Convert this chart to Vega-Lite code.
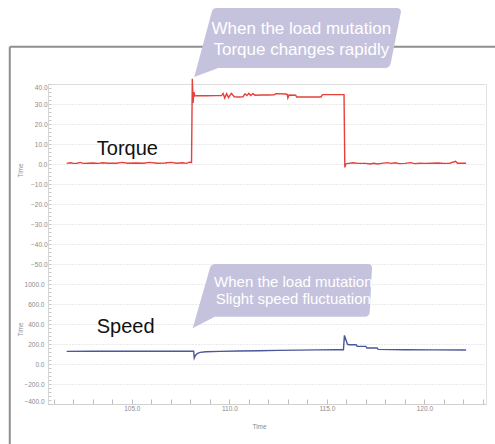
{
  "$schema": "https://vega.github.io/schema/vega-lite/v6.json",
  "width": 438,
  "height": 320,
  "autosize": {"type": "none"},
  "padding": {"left": 48, "top": 84, "right": 9, "bottom": 40},
  "background": "white",
  "config": {"font": "Liberation Sans", "view": {"stroke": "#e2e2e2"}},
  "datasets": {
    "one": [{"k": 1}],
    "torque": [
      {"t":101.66,"v":0.3},{"t":101.85,"v":0.6},{"t":102.0,"v":0.3},{"t":102.2,"v":0.4},{"t":102.35,"v":0.8},{"t":102.5,"v":0.3},{"t":102.75,"v":0.4},{"t":103.0,"v":0.5},{"t":103.3,"v":0.3},{"t":103.5,"v":0.6},{"t":103.8,"v":0.4},{"t":104.2,"v":0.4},{"t":104.5,"v":0.8},{"t":104.8,"v":0.4},{"t":105.2,"v":0.5},{"t":105.6,"v":0.4},{"t":105.9,"v":0.8},{"t":106.3,"v":0.4},{"t":106.7,"v":0.5},{"t":107.0,"v":0.8},{"t":107.3,"v":0.4},{"t":107.6,"v":0.6},{"t":107.8,"v":0.3},{"t":107.95,"v":0.9},{"t":108.06,"v":0.8},
      {"t":108.1,"v":42.6},{"t":108.14,"v":30.5},{"t":108.18,"v":36.0},{"t":108.23,"v":34.0},{"t":108.35,"v":34.2},{"t":108.8,"v":34.1},{"t":109.3,"v":34.2},{"t":109.6,"v":34.2},{"t":109.68,"v":35.3},{"t":109.76,"v":33.0},{"t":109.86,"v":35.2},{"t":109.96,"v":33.2},{"t":110.1,"v":35.3},{"t":110.25,"v":33.6},{"t":110.45,"v":33.5},{"t":110.7,"v":33.6},{"t":110.8,"v":35.1},{"t":110.9,"v":34.2},{"t":111.0,"v":35.3},{"t":111.1,"v":34.3},{"t":111.2,"v":35.2},{"t":111.32,"v":34.4},{"t":111.6,"v":34.5},{"t":112.0,"v":34.5},{"t":112.3,"v":34.6},{"t":112.38,"v":35.2},{"t":112.9,"v":35.0},{"t":112.97,"v":34.7},{"t":113.0,"v":33.0},{"t":113.06,"v":34.5},{"t":113.4,"v":34.4},{"t":113.45,"v":33.5},{"t":114.7,"v":33.5},{"t":114.78,"v":34.7},{"t":115.88,"v":34.7},
      {"t":115.92,"v":-1.7},{"t":115.98,"v":0.1},{"t":116.1,"v":0.3},{"t":116.35,"v":0.6},{"t":116.6,"v":0.3},{"t":117.0,"v":0.3},{"t":117.2,"v":0.0},{"t":117.4,"v":0.4},{"t":117.6,"v":0.0},{"t":117.8,"v":0.3},{"t":118.1,"v":0.7},{"t":118.3,"v":0.3},{"t":118.5,"v":0.6},{"t":118.7,"v":0.2},{"t":119.0,"v":0.3},{"t":119.3,"v":0.7},{"t":119.5,"v":0.2},{"t":119.8,"v":0.4},{"t":120.0,"v":0.3},{"t":120.4,"v":0.4},{"t":120.7,"v":0.5},{"t":121.0,"v":0.3},{"t":121.3,"v":0.4},{"t":121.6,"v":1.3},{"t":121.7,"v":0.4},{"t":122.14,"v":0.4}
    ],
    "speed": [
      {"t":101.66,"v":126},{"t":103,"v":127},{"t":105,"v":127},{"t":107,"v":127},{"t":108.17,"v":127},{"t":108.2,"v":60},{"t":108.26,"v":85},{"t":108.35,"v":105},{"t":108.5,"v":116},{"t":108.8,"v":122},{"t":109.5,"v":126},{"t":110.5,"v":130},{"t":111.5,"v":133},{"t":112.5,"v":136},{"t":113.5,"v":139},{"t":114.5,"v":141},{"t":115.5,"v":143},{"t":115.85,"v":143},{"t":115.9,"v":286},{"t":116.05,"v":200},{"t":116.12,"v":193},{"t":116.5,"v":193},{"t":116.55,"v":176},{"t":117.0,"v":176},{"t":117.05,"v":160},{"t":117.58,"v":160},{"t":117.63,"v":146},{"t":119,"v":143},{"t":120.5,"v":141},{"t":122.14,"v":140}
    ]
  },
  "layer": [
    {
      "resolve": {"axis": {"x": "independent", "y": "independent"}},
      "layer": [
        {
          "data": {"name": "one"},
          "mark": {"type": "rule", "color": "#8f8f8f", "strokeWidth": 2},
          "encoding": {
            "x": {"datum": 98.74, "type": "quantitative", "scale": {"domain": [100.7, 123.16], "nice": false, "zero": false}, "axis": null},
            "y": {"datum": 58.65, "type": "quantitative", "scale": {"domain": [-120, 40], "nice": false, "zero": false}, "axis": null},
            "y2": {"datum": -160}
          }
        },
        {
          "data": {"name": "one"},
          "mark": {"type": "rule", "color": "#8f8f8f", "strokeWidth": 2},
          "encoding": {
            "x": {"datum": 98.74, "type": "quantitative", "scale": {"domain": [100.7, 123.16], "nice": false, "zero": false}, "axis": null},
            "x2": {"datum": 125},
            "y": {"datum": 58.65, "type": "quantitative", "scale": {"domain": [-120, 40], "nice": false, "zero": false}, "axis": null}
          }
        },
        {
          "data": {"name": "torque"},
          "mark": {"type": "line", "color": "#e5403b", "strokeWidth": 1.4},
          "encoding": {
            "x": {
              "field": "t", "type": "quantitative",
              "scale": {"domain": [100.7, 123.16], "nice": false, "zero": false},
              "axis": {
                "orient": "bottom",
                "values": [101,102,103,104,105,106,107,108,109,110,111,112,113,114,115,116,117,118,119,120,121,122,123],
                "labelExpr": "datum.value % 5 === 0 ? format(datum.value, '.1f') : ''",
                "tickSize": -5, "tickColor": "#bdbdbd", "domainColor": "#d0d0d0", "grid": false,
                "labelColor": "#8a8a8a", "labelFontSize": 6.5, "labelPadding": 6, "labelOverlap": false, "labelFlush": false, "labelBound": false,
                "title": "Time", "titleFontSize": 6.5, "titleFontWeight": "normal", "titleColor": "#8a8a8a",
                "titleX": 211, "titleY": 22, "titleBaseline": "middle"
              }
            },
            "y": {
              "field": "v", "type": "quantitative",
              "scale": {"domain": [-120, 40], "nice": false, "zero": false},
              "axis": {
                "orient": "left",
                "values": [40,38,36,34,32,30,28,26,24,22,20,18,16,14,12,10,8,6,4,2,0,-2,-4,-6,-8,-10,-12,-14,-16,-18,-20,-22,-24,-26,-28,-30,-32,-34,-36,-38,-40,-42,-44,-46,-48,-50,-52,-54,-56,-58,-60,-62,-64,-66,-68,-70,-72,-74,-76,-78,-80,-82,-84,-86,-88,-90,-92,-94,-96,-98,-100,-102,-104,-106,-108,-110,-112,-114,-116,-118,-120],
                "labelExpr": "datum.value % 10 === 0 && datum.value >= -50 ? format(datum.value, '.1f') : ''",
                "tickSize": -3, "tickColor": "#c8c8c8", "domainColor": "#d6d6d6",
                "grid": true, "gridColor": "#d4d4d4", "gridDash": [1, 2],
                "gridOpacity": {"condition": {"test": "datum.value % 10 === 0", "value": 1}, "value": 0},
                "labelColor": "#8a8a8a", "labelFontSize": 6.5, "labelPadding": 4, "labelFlush": true, "labelOverlap": false, "labelBound": false,
                "title": "Time", "titleFontSize": 6.5, "titleFontWeight": "normal", "titleColor": "#8a8a8a",
                "titleX": -28, "titleY": 86, "titleAngle": -90, "titleAlign": "center", "titleBaseline": "middle"
              }
            }
          }
        },
        {
          "data": {"name": "one"},
          "mark": {"type": "text", "text": "Torque", "fontSize": 20, "color": "#111111", "align": "left", "baseline": "alphabetic"},
          "encoding": {
            "x": {"datum": 103.2, "type": "quantitative", "scale": {"domain": [100.7, 123.16], "nice": false, "zero": false}, "axis": null},
            "y": {"datum": 4.5, "type": "quantitative", "scale": {"domain": [-120, 40], "nice": false, "zero": false}, "axis": null}
          }
        },
        {
          "data": {"name": "one"},
          "mark": {"type": "point", "shape": "M0,0 L1.75,-6.5 Q1.85,-6.9 2.25,-6.9 L20.2,-6.9 Q20.75,-6.9 20.65,-6.4 L19.65,-1.4 Q19.55,-0.9 19.05,-0.9 L2.4,-0.9 Z", "size": 400, "filled": true, "color": "#c5c2dd", "opacity": 1, "strokeWidth": 0},
          "encoding": {
            "x": {"datum": 108.2, "type": "quantitative", "scale": {"domain": [100.7, 123.16], "nice": false, "zero": false}, "axis": null},
            "y": {"datum": 43.5, "type": "quantitative", "scale": {"domain": [-120, 40], "nice": false, "zero": false}, "axis": null}
          }
        },
        {
          "data": {"name": "one"},
          "mark": {"type": "text", "text": ["When the load mutation", "Torque changes rapidly"], "lineHeight": 21, "fontSize": 17, "color": "#ffffff", "align": "center", "baseline": "alphabetic"},
          "encoding": {
            "x": {"datum": 113.69, "type": "quantitative", "scale": {"domain": [100.7, 123.16], "nice": false, "zero": false}, "axis": null},
            "y": {"datum": 65.25, "type": "quantitative", "scale": {"domain": [-120, 40], "nice": false, "zero": false}, "axis": null}
          }
        }
      ]
    },
    {
      "resolve": {"axis": {"x": "independent", "y": "independent"}},
      "layer": [
        {
          "data": {"name": "speed"},
          "mark": {"type": "line", "color": "#4b569b", "strokeWidth": 1.4},
          "encoding": {
            "x": {"field": "t", "type": "quantitative", "scale": {"domain": [100.7, 123.16], "nice": false, "zero": false}, "axis": null},
            "y": {
              "field": "v", "type": "quantitative",
              "scale": {"domain": [-400, 2800], "nice": false, "zero": false},
              "axis": {
                "orient": "left",
                "values": [800, 600, 400, 200, 0, -200, -400],
                "labelExpr": "datum.value === 800 ? '1000.0' : format(datum.value, '.1f')",
                "ticks": false, "domain": false, "grid": false,
                "labelColor": "#8a8a8a", "labelFontSize": 6.5, "labelPadding": 4, "labelFlush": true, "labelOverlap": false, "labelBound": false,
                "title": "Time", "titleFontSize": 6.5, "titleFontWeight": "normal", "titleColor": "#8a8a8a",
                "titleX": -28, "titleY": 245, "titleAngle": -90, "titleAlign": "center", "titleBaseline": "middle"
              }
            }
          }
        },
        {
          "data": {"name": "one"},
          "mark": {"type": "text", "text": "Speed", "fontSize": 20, "color": "#111111", "align": "left", "baseline": "alphabetic"},
          "encoding": {
            "x": {"datum": 103.2, "type": "quantitative", "scale": {"domain": [100.7, 123.16], "nice": false, "zero": false}, "axis": null},
            "y": {"datum": 310, "type": "quantitative", "scale": {"domain": [-400, 2800], "nice": false, "zero": false}, "axis": null}
          }
        },
        {
          "data": {"name": "one"},
          "mark": {"type": "point", "shape": "M0,0 L1.72,-6.0 Q1.84,-6.43 2.3,-6.43 L17.5,-6.43 Q17.95,-6.43 17.93,-6.0 L17.7,-1.6 Q17.67,-1.16 17.2,-1.16 L2.2,-1.16 Z", "size": 400, "filled": true, "color": "#c5c2dd", "opacity": 1, "strokeWidth": 0},
          "encoding": {
            "x": {"datum": 108.12, "type": "quantitative", "scale": {"domain": [100.7, 123.16], "nice": false, "zero": false}, "axis": null},
            "y": {"datum": 357, "type": "quantitative", "scale": {"domain": [-400, 2800], "nice": false, "zero": false}, "axis": null}
          }
        },
        {
          "data": {"name": "one"},
          "mark": {"type": "text", "text": ["When the load mutation", "Slight speed fluctuation"], "lineHeight": 17.5, "fontSize": 15, "color": "#ffffff", "align": "center", "baseline": "alphabetic"},
          "encoding": {
            "x": {"datum": 113.28, "type": "quantitative", "scale": {"domain": [100.7, 123.16], "nice": false, "zero": false}, "axis": null},
            "y": {"datum": 775, "type": "quantitative", "scale": {"domain": [-400, 2800], "nice": false, "zero": false}, "axis": null}
          }
        }
      ]
    }
  ],
  "resolve": {"scale": {"y": "independent"}, "axis": {"x": "independent", "y": "independent"}}
}
